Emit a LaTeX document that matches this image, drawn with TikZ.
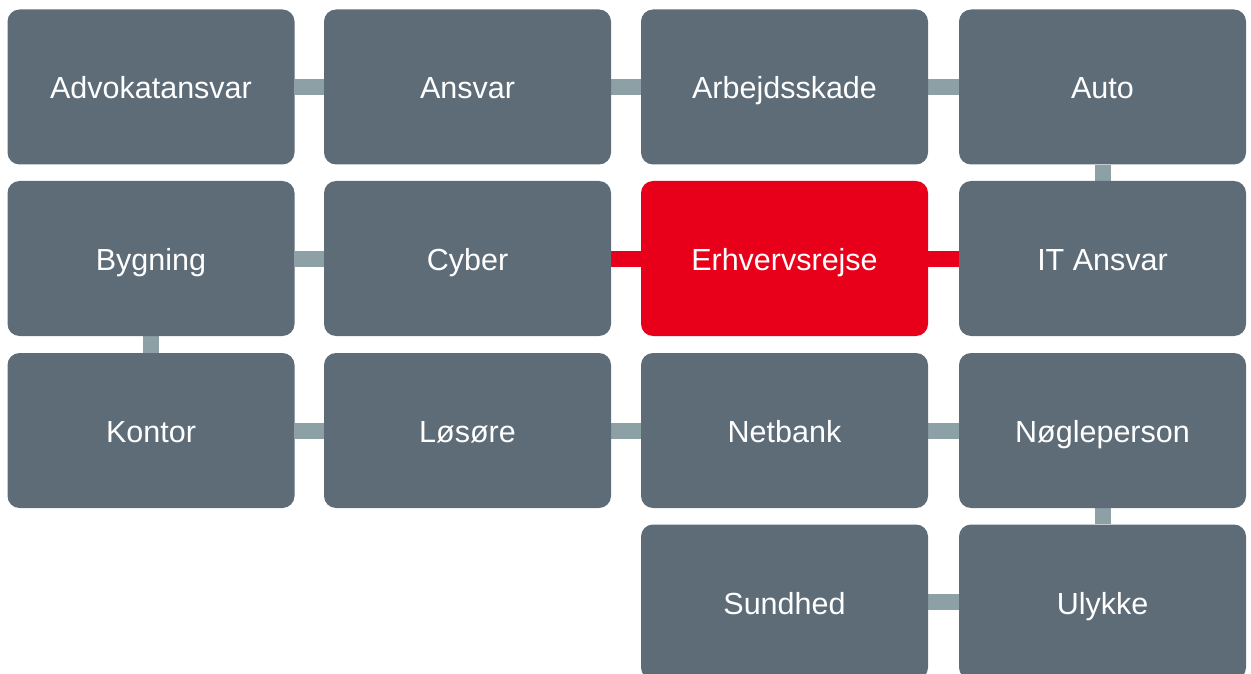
\documentclass[tikz,border=0pt]{standalone}
\usepackage{fontspec}
\setmainfont{Liberation Sans}
\usetikzlibrary{backgrounds}
\definecolor{boxgray}{HTML}{5E6C78}
\definecolor{linkgray}{HTML}{8DA0A6}
\definecolor{hired}{HTML}{E8001B}
\tikzset{
  tile/.style={fill=boxgray, rounded corners=12pt, minimum width=287pt, minimum height=155pt,
    inner sep=0pt, text=white, text height=30pt, text depth=6pt,
    font=\fontsize{30.5}{36}\selectfont},
  hitile/.style={tile, fill=hired},
  link/.style={draw=linkgray, line width=16pt},
  hilink/.style={draw=hired, line width=16pt}
}
\begin{document}
\begin{tikzpicture}[x=1pt,y=-1pt]
\useasboundingbox (0,0) rectangle (1251,674);
\clip (0,0) rectangle (1251,674);
\node[tile] (adv) at (151,87) {Advokatansvar};
\node[tile] (ans) at (467.5,87) {Ansvar};
\node[tile] (arb) at (784.5,87) {Arbejdsskade};
\node[tile] (auto) at (1102.5,87) {Auto};
\node[tile] (byg) at (151,258.5) {Bygning};
\node[tile] (cyb) at (467.5,258.5) {Cyber};
\node[hitile] (erh) at (784.5,258.5) {Erhvervsrejse};
\node[tile] (it) at (1102.5,258.5) {IT Ansvar};
\node[tile] (kon) at (151,430.5) {Kontor};
\node[tile] (los) at (467.5,430.5) {Løsøre};
\node[tile] (net) at (784.5,430.5) {Netbank};
\node[tile] (nog) at (1102.5,430.5) {Nøgleperson};
\node[tile] (sun) at (784.5,602) {Sundhed};
\node[tile] (uly) at (1102.5,602) {Ulykke};
\begin{scope}[on background layer]
\draw[link] (adv) -- (ans);
\draw[link] (ans) -- (arb);
\draw[link] (arb) -- (auto);
\draw[link] (auto) -- (it);
\draw[hilink] (it) -- (erh);
\draw[hilink] (erh) -- (cyb);
\draw[link] (cyb) -- (byg);
\draw[link] (byg) -- (kon);
\draw[link] (kon) -- (los);
\draw[link] (los) -- (net);
\draw[link] (net) -- (nog);
\draw[link] (nog) -- (uly);
\draw[link] (uly) -- (sun);
\end{scope}
\end{tikzpicture}
\end{document}
